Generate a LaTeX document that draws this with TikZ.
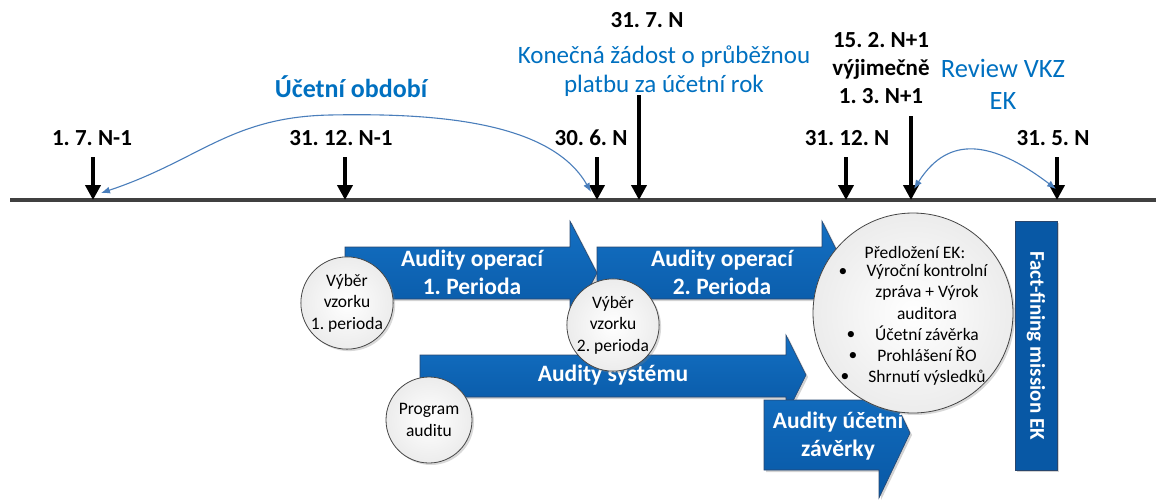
\documentclass[tikz,border=0pt]{standalone}
\usepackage{fontspec}
\setmainfont{Carlito}
\usetikzlibrary{arrows.meta,shadows}
\frenchspacing

\definecolor{lineGray}{RGB}{64,64,64}
\definecolor{curveBlue}{RGB}{74,126,187}
\definecolor{txtBlue}{RGB}{0,112,192}
\definecolor{arrowTop}{RGB}{20,112,195}
\definecolor{arrowBot}{RGB}{8,88,165}
\definecolor{arrowEdge}{RGB}{40,70,110}
\definecolor{bubbleEdge}{RGB}{70,70,70}
\definecolor{bubbleFill}{RGB}{236,236,236}

\begin{document}
\begin{tikzpicture}[x=1pt,y=-1pt,every node/.style={inner sep=0.75pt},
  tick/.style={line width=4pt,-{Triangle[length=15pt,width=15pt]}},
  datum/.style={font=\fontsize{23}{28}\selectfont\bfseries},
  bluetext/.style={text=txtBlue,font=\fontsize{25}{29}\selectfont,align=center},
  span/.style={draw=curveBlue,line width=1.1pt,{Latex[length=9pt,width=7pt]}-{Latex[length=9pt,width=7pt]}},
  blockarrow/.style={draw=arrowEdge,line width=0.6pt,top color=arrowTop,bottom color=arrowBot,
    drop shadow={opacity=0.35,shadow xshift=2pt,shadow yshift=-2pt}},
  arrowtext/.style={text=white,font=\fontsize{23.5}{28}\selectfont\bfseries,align=center},
  bubble/.style={circle,draw=bubbleEdge,line width=0.8pt,inner color=white,outer color=bubbleFill,
    minimum size=86pt,inner sep=0pt,align=center,font=\fontsize{17.5}{21.5}\selectfont,
    drop shadow={opacity=0.3,shadow xshift=2pt,shadow yshift=-2pt}},
  listtext/.style={font=\fontsize{17.5}{21.3}\selectfont}]

\useasboundingbox (0,0) rectangle (1156,499);

%Timeline
\coordinate (lineStart) at (10,200);
\coordinate (lineEnd) at (1156,200);
\draw [lineGray,line width=4pt] (lineStart) -- (lineEnd);

% Dates
\node [datum] (d1) at (92,138) {1. 7. N-1};
\node [datum] (d2) at (341,138) {31. 12. N-1};
\node [datum] (d3) at (591,138) {30. 6. N};
\node [datum] (d4) at (647,20) {31. 7. N};
\node [datum] (d5) at (847,138) {31. 12. N};
\node [datum,align=center] (d6) at (881,68) {15. 2. N+1\\výjimečně\\1. 3. N+1};
\node [datum] (d7) at (1053,138) {31. 5. N};

%Tick arrows
\coordinate (a1) at (93,157);   \coordinate (t1) at (93,200);
\coordinate (a2) at (345,157);  \coordinate (t2) at (345,200);
\coordinate (a3) at (597,157);  \coordinate (t3) at (597,200);
\coordinate (a4) at (639,95);   \coordinate (t4) at (639,200);
\coordinate (a5) at (846,157);  \coordinate (t5) at (846,200);
\coordinate (a6) at (911,116);  \coordinate (t6) at (911,200);
\coordinate (a7) at (1057,157); \coordinate (t7) at (1057,200);
\draw [tick] (a1) -- (t1);
\draw [tick] (a2) -- (t2);
\draw [tick] (a3) -- (t3);
\draw [tick] (a4) -- (t4);
\draw [tick] (a5) -- (t5);
\draw [tick] (a6) -- (t6);
\draw [tick] (a7) -- (t7);

% Blue texts
\node [bluetext,font=\fontsize{26}{30}\selectfont\bfseries] (period) at (351,87) {Účetní období};
\node [bluetext] (request) at (664,71) {Konečná žádost o průběžnou\\platbu za účetní rok};
\node [bluetext,font=\fontsize{26.5}{32}\selectfont] (review) at (1003,84) {Review VKZ\\EK};

%Curved spans
\coordinate (s1a) at (591,192);
\coordinate (s1b) at (101,193);
\draw [span] (s1b) .. controls (200,160) and (230,117) .. (330,115) .. controls (430,113) and (550,120) .. (s1a);
\coordinate (s2a) at (914,189);
\coordinate (s2b) at (1056,189);
\draw [span] (s2a) .. controls (945,140) and (985,135) .. (s2b);

%Block arrows
\draw [blockarrow] (345,247) -- (570,247) -- (570,221) -- (597,273) -- (570,325) -- (570,299) -- (345,299) -- cycle;
\draw [blockarrow] (597,247) -- (822,247) -- (822,221) -- (848,273) -- (822,325) -- (822,299) -- (597,299) -- cycle;
\draw [blockarrow] (420,355) -- (786,355) -- (786,335) -- (806,375) -- (786,415) -- (786,397) -- (420,397) -- cycle;
\draw [blockarrow] (764,400) -- (879,400) -- (879,368) -- (910,433) -- (879,498) -- (879,470) -- (764,470) -- cycle;

% Text Node
\node [arrowtext] (ops1) at (472,272) {Audity operací\\1. Perioda};
\node [arrowtext] (ops2) at (722,272) {Audity operací\\2. Perioda};
\node [arrowtext] (sys) at (613,375) {Audity systému};
\node [arrowtext] (fin) at (838,436) {Audity účetní\\závěrky};

%Fact-finding box
\node [draw=arrowEdge,fill=arrowBot,line width=0.6pt,rotate=-90,minimum width=249pt,minimum height=42pt,
  text=white,font=\fontsize{21}{24}\selectfont\bfseries,
  drop shadow={opacity=0.35,shadow xshift=2pt,shadow yshift=-2pt}] (fact) at (1036,345.5) {Fact-fining mission EK};

%Circles
\node [bubble] (sample1) at (347,303) {Výběr\\vzorku\\1. perioda};
\node [bubble] (sample2) at (613,325) {Výběr\\vzorku\\2. perioda};
\node [bubble] (program) at (429,420) {Program\\auditu};
\node [bubble,minimum size=200pt] (submit) at (913,313) {};

% Text Node
\node [listtext] (subtitle) at (915,252) {Předložení EK:};
\node [listtext,align=center] (sublist) at (927,325) {Výroční kontrolní\\zpráva + Výrok\\auditora\\Účetní závěrka\\Prohlášení ŘO\\Shrnutí výsledků};
\node [listtext] (b1) at (843,272) {\textbullet};
\node [listtext] (b2) at (851,335) {\textbullet};
\node [listtext] (b3) at (853,356) {\textbullet};
\node [listtext] (b4) at (845,377) {\textbullet};
\end{tikzpicture}
\end{document}
